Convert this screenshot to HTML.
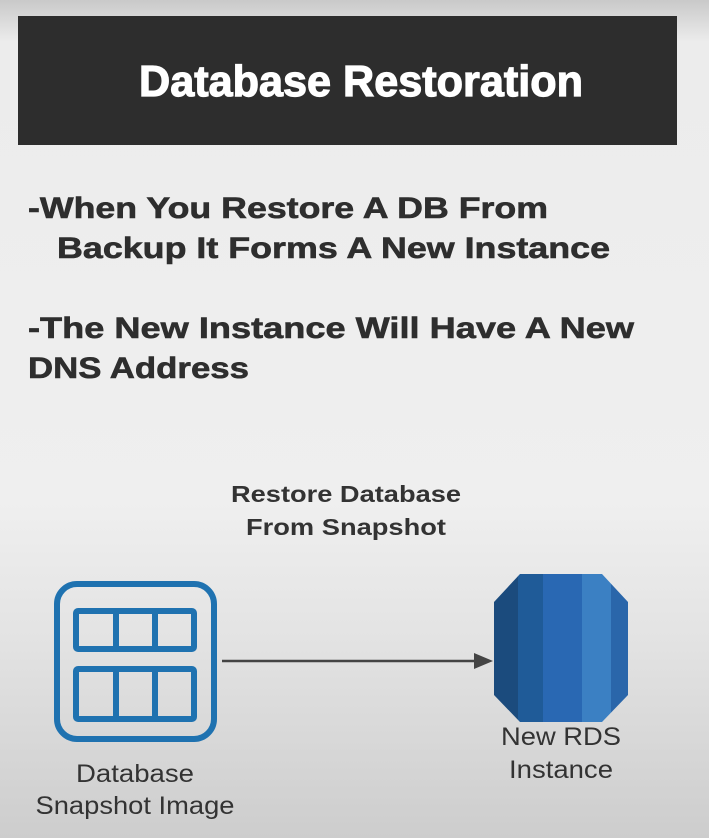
<!DOCTYPE html>
<html><head><meta charset="utf-8"><style>html,body{margin:0;padding:0}svg{display:block}</style></head>
<body>
<svg width="709" height="838" viewBox="0 0 709 838" xmlns="http://www.w3.org/2000/svg">
<defs>
<linearGradient id="bg" x1="0" y1="0" x2="0" y2="1">
<stop offset="0" stop-color="#c9c9c9"/>
<stop offset="0.05" stop-color="#ececec"/>
<stop offset="0.6" stop-color="#efefef"/>
<stop offset="0.75" stop-color="#e4e4e4"/>
<stop offset="1" stop-color="#cdcdcd"/>
</linearGradient>
<clipPath id="cyl"><polygon points="520,574 602,574 628,602 628,695 602,722 520,722 494,695 494,602"/></clipPath>
</defs>
<rect width="709" height="838" fill="url(#bg)"/>
<rect x="18" y="16" width="659" height="129" fill="#2d2d2d"/>
<text x="361" y="96" text-anchor="middle" font-family="Liberation Sans, sans-serif" font-weight="bold" font-size="44" fill="#fff" stroke="#fff" stroke-width="1.2" textLength="444" lengthAdjust="spacingAndGlyphs">Database Restoration</text>
<g font-family="Liberation Sans, sans-serif" font-weight="bold" font-size="30" fill="#2e2e2e" stroke="#2e2e2e" stroke-width="0.6">
<text x="28" y="218" textLength="520" lengthAdjust="spacingAndGlyphs">-When You Restore A DB From</text>
<text x="57" y="258" textLength="553" lengthAdjust="spacingAndGlyphs">Backup It Forms A New Instance</text>
<text x="28" y="338" textLength="606" lengthAdjust="spacingAndGlyphs">-The New Instance Will Have A New</text>
<text x="28" y="378" textLength="221" lengthAdjust="spacingAndGlyphs">DNS Address</text>
</g>
<g font-family="Liberation Sans, sans-serif" font-size="23" fill="#333" text-anchor="middle">
<text x="346" y="502" font-weight="bold" font-size="23" textLength="230" lengthAdjust="spacingAndGlyphs">Restore Database</text>
<text x="346" y="535" font-weight="bold" font-size="23" textLength="200" lengthAdjust="spacingAndGlyphs">From Snapshot</text>
<text x="561" y="745" font-size="25" textLength="120" lengthAdjust="spacingAndGlyphs">New RDS</text>
<text x="561" y="778" font-size="25" textLength="104" lengthAdjust="spacingAndGlyphs">Instance</text>
<text x="135" y="782" font-size="25" textLength="118" lengthAdjust="spacingAndGlyphs">Database</text>
<text x="135" y="814" font-size="25" textLength="199" lengthAdjust="spacingAndGlyphs">Snapshot Image</text>
</g>
<rect x="57" y="584" width="157" height="155" rx="20" fill="none" stroke="#1f72b0" stroke-width="6"/>
<g fill="none" stroke="#1f72b0" stroke-width="6">
<rect x="76" y="611" width="118" height="38" rx="2"/>
<rect x="76" y="669" width="118" height="50" rx="2"/>
<line x1="116" y1="611" x2="116" y2="649"/><line x1="155" y1="611" x2="155" y2="649"/>
<line x1="116" y1="669" x2="116" y2="719"/><line x1="155" y1="669" x2="155" y2="719"/>
</g>
<line x1="222" y1="661" x2="476" y2="661" stroke="#444" stroke-width="2.5"/>
<polygon points="474,653 493,661 474,669" fill="#444"/>
<g clip-path="url(#cyl)">
<rect x="494" y="574" width="24" height="148" fill="#1b4b7d"/>
<rect x="518" y="574" width="25" height="148" fill="#1f5b98"/>
<rect x="543" y="574" width="39" height="148" fill="#2968b3"/>
<rect x="582" y="574" width="29" height="148" fill="#3b80c3"/>
<rect x="611" y="574" width="17" height="148" fill="#2a66aa"/>
</g>
</svg>
</body></html>
